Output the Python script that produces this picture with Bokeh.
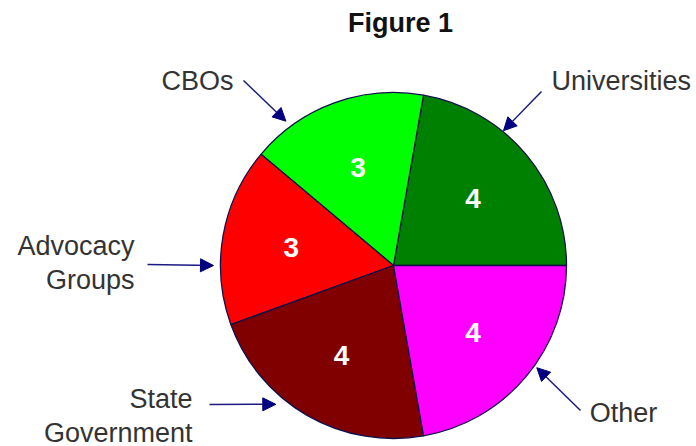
import math
from bokeh.plotting import figure
from bokeh.models import ColumnDataSource, Arrow, NormalHead, Label
from bokeh.core.properties import value
from bokeh.embed import file_html
from bokeh.resources import INLINE

# Funding sources and counts
categories = ["Universities", "CBOs", "Advocacy Groups", "State Government", "Other"]
counts = [4, 3, 3, 4, 4]
colors = ["#008000", "#00FF00", "#FF0000", "#800000", "#FF00FF"]
callout_lines = [["Universities"], ["CBOs"], ["Advocacy", "Groups"],
                 ["State", "Government"], ["Other"]]

W, H = 696, 446
CX, CY, R = 393, H - 265, 173

total = sum(counts)
starts, ends = [], []
acc = 0.0
for c in counts:
    starts.append(2 * math.pi * acc / total)
    acc += c
    ends.append(2 * math.pi * acc / total)
mids = [(s + e) / 2 for s, e in zip(starts, ends)]

src = ColumnDataSource(dict(
    cat=categories, count=counts, color=colors,
    start=starts, end=ends,
    lx=[CX + 0.6 * R * math.cos(m) for m in mids],
    ly=[CY + 0.6 * R * math.sin(m) for m in mids],
    txt=[str(c) for c in counts],
))

p = figure(width=W, height=H, x_range=(0, W), y_range=(0, H),
           output_backend="svg", toolbar_location=None,
           min_border=0, outline_line_color=None)
p.axis.visible = False
p.grid.visible = False
p.background_fill_color = "white"

p.wedge(x=CX, y=CY, radius=R, start_angle="start", end_angle="end",
        fill_color="color", line_color="#10104a", line_width=1.3, source=src)

p.text(x="lx", y="ly", text="txt", source=src, text_color="white",
       text_font=value("Liberation Sans"), text_font_style="bold",
       text_font_size="28px", text_align="center", text_baseline="middle")

FONT = "Liberation Sans"
LBL = "#333333"
LINE_GAP = 34

# Callouts: (lines, anchor x, first-line y, align, arrow tail, tip angle in degrees, tip radius)
callouts = [
    (callout_lines[0], 551, H - 80, "left", (541, H - 91), 50.8, 174),
    (callout_lines[1], 197, H - 80, "center", (243, H - 80), 126.7, 180),
    (callout_lines[2], 134, H - 245, "right", (147, H - 264), 180.0, 180),
    (callout_lines[3], 192, H - 398, "right", (209, H - 404), 229.7, 182),
    (callout_lines[4], 623, H - 412, "center", (580, H - 410), 324.5, 176),
]

for lines, tx, ty, align, tail, ang, rad in callouts:
    for i, line in enumerate(lines):
        p.text(x=[tx], y=[ty - i * LINE_GAP], text=[line], text_color=LBL,
               text_font=value(FONT), text_font_size="27px",
               text_align=align, text_baseline="middle")
    a = math.radians(ang)
    tipx = CX + rad * math.cos(a)
    tipy = CY + rad * math.sin(a)
    p.add_layout(Arrow(x_start=tail[0], y_start=tail[1], x_end=tipx, y_end=tipy,
                       line_color="#1a1a80", line_width=1.5,
                       end=NormalHead(size=13, fill_color="#000080",
                                      line_color="#000080")))

p.add_layout(Label(x=400, y=H - 22, text="Figure 1", text_font=FONT,
                   text_font_style="bold", text_font_size="27px",
                   text_align="center", text_baseline="middle",
                   text_color="#111111"))

open("out.html", "w").write(file_html(p, INLINE))
